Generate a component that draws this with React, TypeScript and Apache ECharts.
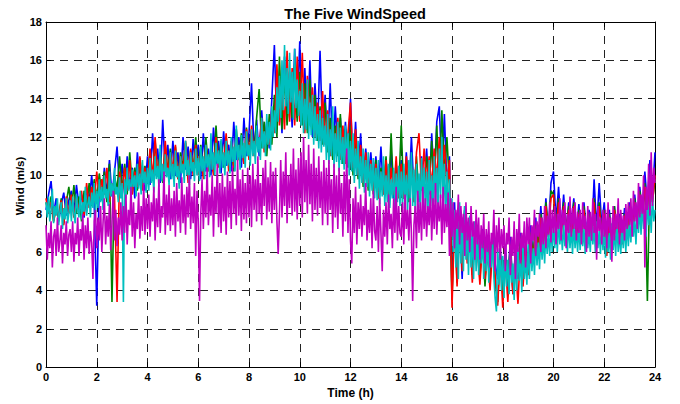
import React, { useEffect, useRef } from "react";
import * as echarts from "echarts";

const title = "The Five WindSpeed";
const xName = "Time (h)";
const yName = "Wind (m/s)";
const seriesNames = ["Wind 1", "Wind 2", "Wind 3", "Wind 4", "Wind 5"];
const seriesColors = ["#0000FF", "#008000", "#FF0000", "#00BFBF", "#BF00BF"];

// sample times: blue, green and red every 0.1 h; cyan and magenta every 0.05 h
const hoursCoarse: number[] = Array.from({ length: 241 }, (_, i) => i / 10);
const hoursFine: number[] = Array.from({ length: 481 }, (_, i) => i / 20);

const blue = [
  8.2, 9.0, 9.7, 8.0, 8.8, 7.6, 8.5, 9.1, 7.9, 8.7,
  9.2, 8.0, 9.5, 8.4, 9.0, 7.8, 9.3, 8.6, 10.0, 8.5,
  3.2, 9.6, 8.7, 10.4, 9.0, 10.8, 8.9, 10.2, 11.5, 9.3,
  10.6, 9.0, 11.0, 9.4, 10.4, 8.8, 11.2, 9.6, 10.5, 9.2,
  11.0, 9.5, 12.2, 10.0, 11.4, 9.6, 12.9, 10.2, 11.6, 9.8,
  11.8, 10.0, 11.2, 9.6, 12.0, 10.3, 11.5, 9.8, 11.9, 10.4,
  11.6, 9.8, 12.2, 10.2, 11.4, 10.0, 12.5, 10.6, 11.8, 10.1,
  12.3, 10.5, 11.6, 10.2, 12.8, 10.8, 12.0, 10.4, 13.0, 11.0,
  12.2, 14.8, 11.2, 12.9, 11.0, 13.4, 11.5, 12.8, 11.4, 14.0,
  16.8, 12.4, 15.0, 12.2, 16.2, 12.8, 15.4, 12.5, 16.6, 13.0,
  17.0, 12.8, 15.6, 12.4, 16.0, 12.0, 14.8, 12.3, 16.5, 12.0,
  14.2, 11.4, 14.8, 11.0, 13.6, 11.2, 13.0, 10.6, 12.8, 10.8,
  14.0, 10.4, 12.8, 10.0, 12.2, 9.6, 11.4, 9.8, 11.2, 9.4,
  11.0, 9.2, 11.5, 9.0, 10.8, 9.4, 11.3, 8.8, 10.6, 9.0,
  10.8, 8.8, 11.2, 9.0, 12.0, 9.2, 10.6, 8.6, 11.0, 9.4,
  11.4, 9.0, 12.2, 9.6, 12.8, 13.6, 10.0, 13.2, 9.4, 11.0,
  3.8, 8.6, 5.0, 7.8, 4.6, 8.4, 5.8, 7.4, 5.2, 7.0,
  6.8, 4.8, 7.2, 5.0, 6.6, 4.4, 6.9, 5.4, 4.6, 6.2,
  4.0, 6.4, 4.2, 6.8, 3.8, 6.2, 4.6, 7.0, 5.0, 6.6,
  5.2, 7.4, 5.6, 7.8, 6.0, 8.4, 6.4, 8.8, 6.8, 9.6,
  10.2, 7.6, 9.4, 7.2, 9.0, 7.0, 8.6, 7.4, 8.8, 7.0,
  8.5, 6.8, 8.6, 7.0, 8.2, 6.6, 9.8, 7.2, 9.6, 7.4,
  8.6, 6.6, 8.2, 6.4, 8.4, 6.8, 8.0, 6.6, 8.3, 7.0,
  8.6, 7.4, 9.0, 7.6, 9.4, 8.0, 10.2, 8.4, 10.8, 9.0,
  11.2,
];

const green = [
  8.6, 8.0, 8.9, 7.6, 8.4, 7.8, 8.8, 7.5, 8.6, 9.4,
  8.2, 9.5, 8.0, 8.9, 7.6, 9.2, 8.3, 9.6, 8.4, 9.8,
  8.8, 10.1, 9.0, 10.2, 8.6, 10.6, 3.4, 10.0, 9.2, 11.0,
  9.2, 10.6, 9.0, 11.2, 9.4, 10.4, 9.2, 10.9, 9.6, 10.5,
  9.6, 11.3, 9.8, 11.8, 10.0, 11.2, 9.6, 11.6, 10.2, 11.4,
  10.0, 11.5, 9.8, 11.2, 10.4, 11.7, 9.9, 11.3, 10.2, 12.0,
  10.2, 11.6, 10.0, 12.0, 10.4, 11.4, 10.2, 12.6, 10.5, 11.8,
  10.4, 12.0, 10.6, 11.6, 10.2, 12.4, 10.8, 12.2, 10.6, 12.5,
  11.0, 12.4, 11.2, 13.0, 14.5, 11.4, 12.8, 11.0, 13.2, 11.6,
  14.2, 12.0, 16.2, 12.4, 15.2, 12.6, 14.6, 13.0, 15.8, 12.8,
  15.4, 12.6, 14.8, 12.2, 15.0, 12.4, 14.2, 11.8, 13.6, 11.6,
  13.8, 11.2, 13.0, 10.8, 12.6, 11.0, 13.2, 10.6, 12.4, 10.4,
  12.6, 10.0, 12.0, 9.8, 11.4, 9.4, 11.0, 9.2, 10.6, 9.0,
  10.8, 8.8, 10.4, 9.2, 11.0, 8.6, 12.2, 9.0, 10.5, 9.2,
  12.6, 8.8, 10.8, 8.6, 10.6, 9.0, 11.0, 8.8, 10.2, 9.4,
  11.0, 9.2, 11.8, 9.4, 12.6, 9.6, 13.4, 10.0, 12.0, 9.4,
  3.5, 8.0, 4.4, 7.6, 5.2, 8.2, 5.6, 7.0, 4.8, 6.6,
  6.4, 4.6, 6.8, 4.2, 6.4, 4.8, 6.6, 4.4, 3.4, 6.0,
  3.8, 6.0, 4.4, 6.4, 4.0, 5.8, 4.8, 6.8, 4.6, 6.2,
  5.0, 7.0, 5.8, 7.4, 6.2, 8.0, 6.6, 8.6, 7.0, 9.2,
  9.0, 7.2, 8.8, 7.0, 8.6, 7.2, 8.4, 7.0, 8.6, 6.8,
  8.2, 6.8, 8.4, 6.6, 8.0, 7.0, 8.8, 7.0, 8.6, 7.2,
  8.2, 6.4, 8.0, 6.6, 8.4, 6.8, 7.8, 6.6, 8.0, 7.2,
  8.4, 7.4, 8.8, 7.6, 9.2, 8.0, 9.6, 3.45, 10.0, 8.6,
  9.8,
];

const red = [
  8.8, 8.0, 8.6, 7.6, 8.3, 7.8, 8.7, 7.4, 8.9, 8.0,
  9.0, 7.8, 8.8, 8.2, 9.2, 7.9, 9.6, 8.3, 9.4, 8.6,
  10.2, 8.8, 9.8, 9.0, 10.4, 8.6, 9.6, 8.9, 3.4, 10.2,
  9.0, 10.4, 9.2, 10.8, 9.0, 10.2, 9.4, 11.0, 9.2, 10.4,
  9.6, 11.4, 9.8, 12.0, 10.0, 11.0, 9.8, 11.8, 10.0, 11.2,
  10.2, 11.6, 9.8, 11.0, 10.2, 11.8, 9.6, 11.4, 10.0, 11.6,
  10.0, 11.2, 9.8, 11.6, 10.2, 11.0, 10.0, 12.0, 10.4, 11.4,
  10.6, 12.2, 10.2, 11.8, 10.4, 12.0, 10.8, 11.6, 10.6, 12.4,
  10.8, 12.6, 11.0, 12.2, 11.4, 13.0, 11.2, 12.4, 11.6, 13.4,
  12.2, 15.8, 12.6, 14.8, 12.4, 16.5, 12.8, 15.6, 12.6, 16.2,
  12.8, 16.4, 12.2, 15.2, 12.6, 14.6, 12.0, 13.8, 11.8, 14.4,
  11.6, 13.4, 11.0, 12.8, 11.2, 13.0, 10.8, 12.6, 10.6, 12.2,
  13.8, 10.4, 12.4, 10.0, 11.6, 9.6, 11.2, 9.6, 10.8, 9.2,
  10.6, 8.8, 10.2, 9.0, 10.8, 8.8, 10.4, 9.0, 11.0, 8.8,
  10.6, 8.8, 11.0, 9.0, 10.4, 8.6, 11.2, 12.2, 9.2, 11.4,
  9.6, 11.0, 9.4, 11.4, 9.8, 12.0, 10.0, 11.6, 9.4, 10.8,
  3.1, 7.8, 4.2, 7.4, 5.0, 8.0, 5.4, 7.2, 4.4, 6.8,
  6.2, 4.3, 6.6, 4.6, 6.0, 4.0, 6.4, 4.8, 3.2, 5.8,
  3.1, 5.6, 3.4, 6.0, 3.8, 5.4, 3.3, 6.2, 4.2, 6.4,
  4.8, 6.8, 5.4, 7.2, 5.8, 7.8, 6.2, 8.4, 6.8, 8.8,
  9.0, 7.0, 8.6, 6.8, 8.4, 7.0, 8.2, 6.6, 8.4, 6.8,
  8.0, 6.6, 8.2, 6.4, 7.8, 6.8, 8.6, 6.6, 8.4, 7.0,
  8.0, 5.8, 7.8, 6.4, 8.2, 6.6, 7.6, 6.4, 7.9, 7.0,
  8.2, 7.2, 8.6, 7.4, 9.0, 7.8, 9.4, 8.2, 9.8, 8.6,
  10.0,
];

const cyan = [
  8.6, 7.8, 8.9, 7.6, 8.2, 9.3, 7.5, 8.4, 7.9, 8.8, 7.4, 8.1, 8.6, 7.2, 8.3, 7.7, 8.8, 7.5, 8.0, 8.7,
  7.6, 8.9, 8.0, 7.5, 9.0, 8.2, 7.8, 9.2, 7.7, 8.6, 8.1, 9.4, 7.9, 8.5, 8.9, 7.8, 9.1, 8.3, 9.6, 8.0,
  9.2, 8.3, 9.8, 8.6, 9.4, 8.2, 10.0, 8.8, 9.3, 8.4, 10.2, 8.9, 9.6, 8.5, 10.4, 9.0, 9.4, 8.6, 9.9, 8.8,
  9.6, 3.4, 9.8, 8.8, 10.4, 9.2, 9.8, 8.7, 10.3, 9.4, 10.0, 8.9, 10.6, 9.3, 10.1, 9.0, 10.8, 9.5, 10.2, 9.1,
  10.4, 9.2, 10.9, 9.6, 10.3, 9.1, 11.0, 9.8, 10.5, 9.4, 11.6, 9.7, 10.6, 9.3, 11.1, 9.9, 10.4, 9.5, 11.2, 9.8,
  10.6, 9.4, 11.3, 9.9, 10.5, 9.3, 11.0, 10.1, 10.6, 9.6, 11.8, 10.0, 10.8, 9.5, 11.2, 10.2, 10.7, 9.7, 11.4, 10.0,
  10.9, 9.7, 11.5, 10.2, 11.0, 9.8, 11.6, 10.4, 11.1, 9.9, 12.2, 10.3, 11.2, 10.0, 11.7, 10.5, 11.3, 10.1, 11.9, 10.4,
  11.2, 10.0, 11.8, 10.5, 11.3, 10.1, 12.0, 10.7, 11.5, 10.2, 12.6, 10.8, 11.6, 10.3, 12.1, 10.9, 11.7, 10.4, 12.3, 11.0,
  11.6, 10.5, 12.4, 11.0, 11.8, 10.6, 12.6, 11.2, 12.0, 10.8, 13.0, 11.4, 12.3, 11.0, 13.2, 11.6, 12.8, 11.3, 13.6, 12.0,
  13.4, 12.2, 14.6, 12.8, 15.2, 13.0, 16.0, 13.4, 16.8, 13.6, 15.6, 13.2, 16.4, 13.8, 15.4, 12.9, 16.6, 13.5, 15.0, 13.1,
  14.4, 12.6, 14.8, 12.2, 14.0, 12.4, 15.0, 11.9, 13.8, 12.1, 14.2, 11.6, 13.6, 11.8, 13.2, 11.4, 13.4, 11.2, 13.0, 11.5,
  12.6, 10.8, 13.2, 10.6, 12.4, 11.0, 13.6, 10.4, 12.2, 10.7, 12.8, 10.2, 12.5, 10.6, 12.0, 10.3, 12.6, 10.5, 12.2, 10.0,
  11.8, 10.2, 12.2, 9.6, 11.4, 10.0, 11.8, 9.3, 11.0, 9.6, 11.4, 9.1, 10.8, 9.4, 11.2, 8.9, 10.6, 9.2, 10.9, 8.8,
  10.4, 8.7, 10.8, 8.5, 10.2, 8.9, 11.0, 8.4, 10.0, 8.6, 10.6, 8.3, 9.8, 8.8, 10.4, 8.2, 10.1, 8.6, 10.5, 8.4,
  10.2, 8.3, 10.6, 8.6, 10.0, 8.2, 10.8, 8.7, 11.2, 8.4, 10.3, 8.1, 10.6, 8.6, 10.1, 8.3, 10.9, 8.5, 10.4, 8.2,
  10.2, 8.0, 10.8, 8.4, 10.0, 7.8, 11.0, 8.6, 10.4, 8.2, 11.4, 8.8, 12.0, 8.4, 10.6, 7.9, 10.2, 7.6, 9.8, 7.4,
  8.8, 6.0, 8.2, 5.2, 7.6, 4.6, 8.6, 5.4, 7.8, 5.0, 8.4, 5.6, 7.4, 4.8, 7.9, 5.2, 7.2, 4.6, 7.6, 5.0,
  7.2, 4.8, 6.8, 5.4, 7.0, 4.6, 6.6, 5.0, 6.9, 4.4, 6.4, 5.2, 6.8, 4.7, 3.6, 2.9, 6.2, 4.3, 6.0, 4.0,
  5.8, 3.6, 6.2, 4.2, 5.6, 3.8, 6.0, 4.4, 5.4, 3.5, 5.9, 4.0, 6.2, 4.5, 5.6, 3.9, 6.4, 4.6, 5.8, 4.3,
  6.4, 4.6, 6.6, 5.0, 6.2, 4.8, 6.9, 5.3, 6.5, 5.1, 7.0, 5.6, 6.8, 5.4, 7.2, 5.9, 7.0, 5.8, 7.4, 6.0,
  7.6, 6.2, 7.4, 6.0, 7.8, 6.4, 7.2, 6.1, 7.5, 6.3, 7.0, 6.0, 7.6, 6.2, 7.3, 5.9, 7.5, 6.2, 7.2, 6.0,
  7.4, 6.1, 7.6, 6.3, 7.2, 5.9, 7.5, 6.2, 7.0, 6.0, 7.8, 6.4, 7.3, 6.0, 7.6, 6.2, 7.1, 5.9, 7.4, 6.1,
  7.2, 5.7, 7.4, 6.0, 7.0, 5.6, 7.5, 6.1, 7.2, 5.8, 7.6, 6.0, 7.0, 5.9, 7.3, 6.2, 7.5, 6.0, 7.6, 6.3,
  7.6, 6.5, 8.0, 6.8, 7.8, 6.4, 8.2, 7.0, 8.4, 6.9, 8.6, 7.2, 8.2, 6.8, 8.8, 7.4, 8.6, 7.0, 9.0, 7.6,
  8.2,
];

const magenta = [
  7.4, 5.6, 7.0, 6.2, 7.6, 5.2, 6.8, 7.2, 5.8, 7.8, 6.0, 6.6, 7.4, 5.4, 7.0, 6.4, 7.6, 5.8, 6.9, 7.2,
  6.0, 7.6, 5.5, 7.0, 6.4, 7.8, 5.8, 7.2, 6.6, 8.0, 5.6, 7.4, 6.2, 7.8, 5.9, 7.1, 6.5, 4.6, 7.6, 8.2,
  6.2, 7.8, 6.6, 8.4, 6.0, 7.6, 8.8, 6.4, 7.9, 6.8, 8.5, 6.1, 7.5, 9.2, 6.6, 8.2, 6.3, 7.8, 6.9, 8.6,
  6.6, 8.4, 7.0, 9.0, 6.4, 8.2, 7.4, 9.4, 6.8, 8.6, 6.2, 8.0, 7.2, 9.1, 6.7, 8.4, 7.1, 9.6, 6.9, 8.8,
  7.2, 9.0, 6.8, 8.6, 7.6, 9.4, 6.6, 8.8, 7.3, 9.8, 7.0, 8.4, 7.8, 10.2, 6.9, 9.0, 7.4, 9.5, 7.1, 8.8,
  7.4, 9.2, 6.8, 9.6, 7.6, 8.7, 7.0, 9.9, 7.5, 9.0, 6.9, 9.4, 7.8, 10.0, 7.2, 8.9, 7.5, 9.6, 5.8, 9.2,
  7.6, 3.45, 8.0, 9.8, 7.2, 9.2, 7.8, 10.4, 7.4, 9.0, 7.9, 10.0, 6.8, 9.4, 8.0, 10.6, 7.3, 9.6, 7.0, 10.1,
  7.6, 9.4, 6.9, 10.2, 7.8, 9.7, 7.2, 10.5, 8.0, 9.3, 7.4, 10.8, 7.9, 9.8, 7.1, 10.3, 7.7, 9.6, 7.5, 10.4,
  7.8, 10.0, 7.3, 10.6, 8.2, 9.8, 7.6, 11.0, 8.0, 9.6, 7.4, 10.4, 8.4, 10.8, 7.7, 9.9, 8.1, 10.7, 7.5, 10.2,
  8.2, 10.4, 7.6, 5.9, 8.0, 10.8, 7.8, 10.2, 8.4, 11.2, 7.5, 10.0, 8.3, 10.6, 7.9, 11.4, 8.1, 10.3, 7.7, 10.9,
  8.4, 11.2, 7.8, 12.0, 8.6, 10.8, 8.0, 11.6, 8.5, 10.6, 7.6, 11.4, 8.2, 10.4, 7.9, 11.0, 8.3, 10.2, 7.4, 10.8,
  8.0, 10.4, 7.4, 10.8, 8.2, 9.8, 7.0, 10.6, 7.8, 10.0, 7.2, 10.4, 8.0, 9.6, 6.8, 10.2, 7.6, 11.4, 7.0, 9.8,
  6.6, 5.4, 8.8, 7.0, 9.4, 6.4, 8.6, 7.2, 9.0, 6.8, 8.4, 7.4, 9.6, 6.6, 8.2, 7.0, 8.8, 6.2, 9.2, 7.1,
  6.6, 8.4, 6.0, 8.8, 7.0, 5.0, 8.2, 6.8, 8.6, 6.4, 9.0, 7.2, 8.0, 6.2, 8.8, 7.0, 9.4, 6.6, 8.4, 7.0,
  6.8, 8.6, 6.4, 9.0, 7.2, 8.2, 6.6, 8.8, 7.0, 3.45, 7.4, 8.4, 6.2, 9.2, 7.0, 8.6, 6.6, 9.4, 7.2, 8.8,
  6.8, 8.4, 7.4, 9.2, 6.6, 8.8, 7.2, 9.6, 6.9, 8.6, 7.6, 9.0, 6.4, 9.4, 7.0, 8.5, 7.3, 9.1, 5.8, 8.8,
  6.8, 8.6, 6.2, 8.2, 7.2, 9.0, 6.4, 8.4, 7.0, 8.0, 5.8, 8.6, 6.6, 7.8, 6.0, 8.4, 6.8, 7.6, 5.6, 8.2,
  6.4, 7.8, 5.6, 7.4, 6.2, 8.0, 5.4, 7.2, 6.0, 7.6, 5.2, 7.0, 6.4, 8.2, 5.0, 7.4, 6.0, 7.8, 5.6, 7.2,
  6.2, 7.4, 5.0, 7.0, 6.4, 7.8, 4.8, 6.8, 5.8, 7.6, 4.6, 7.2, 6.0, 8.0, 5.4, 7.0, 6.2, 7.6, 5.2, 7.8,
  6.4, 7.8, 5.4, 7.4, 6.6, 8.2, 5.8, 7.6, 6.8, 8.0, 6.0, 7.8, 6.4, 8.4, 6.2, 7.9, 6.9, 8.6, 6.5, 8.2,
  7.0, 8.4, 6.4, 8.0, 7.2, 8.8, 6.6, 8.2, 7.4, 8.6, 6.2, 8.0, 7.0, 8.9, 6.8, 8.3, 7.2, 8.6, 6.6, 8.1,
  7.0, 8.2, 6.4, 8.6, 7.2, 7.9, 6.0, 8.4, 6.8, 8.1, 6.6, 8.8, 7.0, 8.0, 5.6, 8.4, 7.1, 7.8, 6.4, 8.2,
  6.8, 8.2, 6.2, 8.6, 7.0, 7.8, 5.5, 8.4, 6.6, 8.0, 7.2, 8.8, 6.4, 8.2, 7.0, 7.9, 6.6, 8.5, 7.2, 8.6,
  7.4, 8.8, 6.8, 9.2, 7.6, 8.6, 7.2, 9.6, 7.8, 9.0, 8.0, 10.0, 5.2, 9.4, 8.2, 10.6, 7.9, 11.2, 8.4, 10.4,
  9.6,
];

const seriesValues = [blue, green, red, cyan, magenta];
const seriesHours = [hoursCoarse, hoursCoarse, hoursCoarse, hoursFine, hoursFine];

const FONT = "'Liberation Sans', Arial, Helvetica, sans-serif";

export default function App() {
  const ref = useRef<HTMLDivElement>(null);

  useEffect(() => {
    if (!ref.current) return;
    const chart = echarts.init(ref.current, null, { renderer: "svg" });
    const gridLine = { show: true, lineStyle: { color: "#222", width: 1, type: [8, 6] as any } };
    const labelStyle = { color: "#000", fontFamily: FONT, fontWeight: "bold" as const, fontSize: 11 };
    const frameAxisLine = { show: true, onZero: false, lineStyle: { color: "#000", width: 1 } };
    const frameTick = { show: true, inside: true, length: 5, lineStyle: { color: "#000" } };
    chart.setOption({
      animation: false,
      backgroundColor: "#fff",
      title: {
        text: title,
        left: 350,
        textAlign: "center",
        top: 1,
        textStyle: { color: "#000", fontFamily: FONT, fontWeight: "bold", fontSize: 14.5 },
      },
      graphic: [
        {
          type: "text",
          x: 20,
          y: 186,
          rotation: Math.PI / 2,
          style: {
            text: yName,
            fill: "#000",
            font: "bold 11.5px 'Liberation Sans', Arial, sans-serif",
            textAlign: "center",
            textVerticalAlign: "middle",
          },
        },
      ],
      grid: { left: 46, right: 25, top: 22, bottom: 34, containLabel: false },
      xAxis: [
        {
          type: "value",
          min: 0,
          max: 24,
          interval: 2,
          name: xName,
          nameLocation: "middle",
          nameGap: 16,
          nameTextStyle: { ...labelStyle, fontSize: 12 },
          axisLine: frameAxisLine,
          axisTick: frameTick,
          axisLabel: { ...labelStyle, margin: 4 },
          splitLine: gridLine,
        },
        {
          type: "value",
          position: "top",
          min: 0,
          max: 24,
          interval: 2,
          axisLine: frameAxisLine,
          axisTick: frameTick,
          axisLabel: { show: false },
          splitLine: { show: false },
        },
      ],
      yAxis: [
        {
          type: "value",
          min: 0,
          max: 18,
          interval: 2,
          axisLine: frameAxisLine,
          axisTick: frameTick,
          axisLabel: { ...labelStyle, margin: 4 },
          splitLine: gridLine,
        },
        {
          type: "value",
          position: "right",
          min: 0,
          max: 18,
          interval: 2,
          axisLine: frameAxisLine,
          axisTick: frameTick,
          axisLabel: { show: false },
          splitLine: { show: false },
        },
      ],
      series: seriesValues.map((vals, si) => ({
        name: seriesNames[si],
        type: "line",
        xAxisIndex: 0,
        yAxisIndex: 0,
        showSymbol: false,
        symbol: "none",
        z: 2 + si,
        lineStyle: { color: seriesColors[si], width: 1.6 },
        data: seriesHours[si].map((t, i) => [t, vals[i]]),
      })),
    });
    return () => chart.dispose();
  }, []);

  return (
    <div
      ref={ref}
      style={{ position: "absolute", left: 0, top: 0, width: 680, height: 404 }}
    />
  );
}
